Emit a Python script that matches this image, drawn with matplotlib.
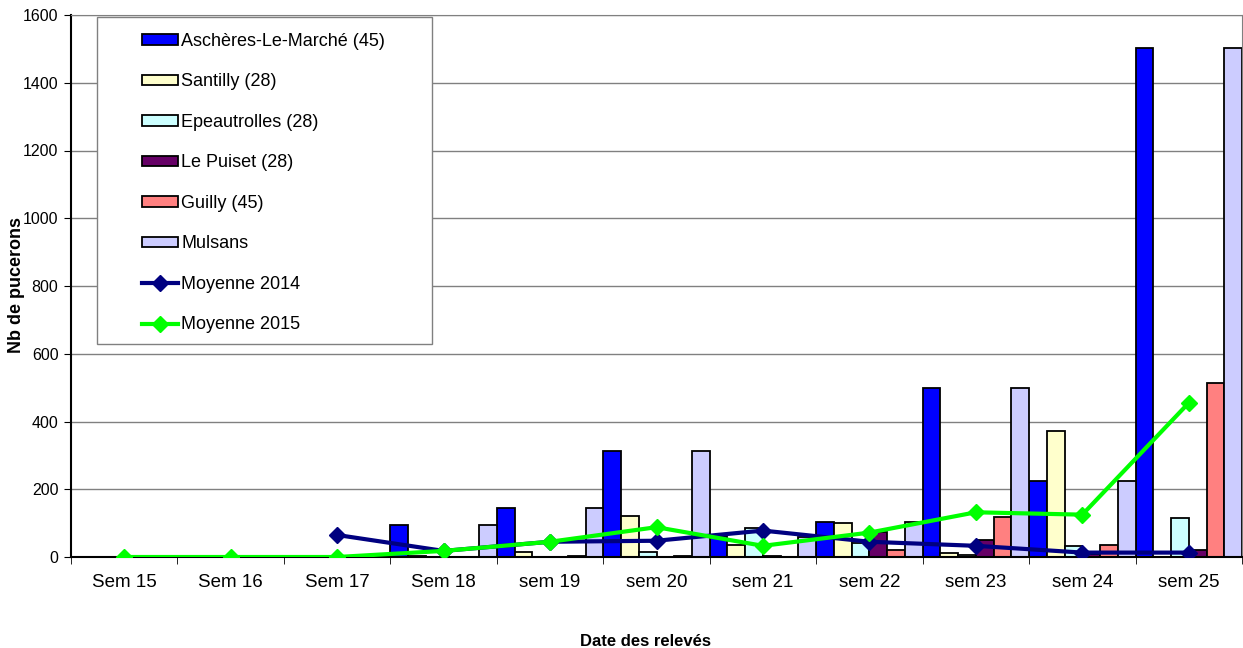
import numpy as np
import matplotlib
matplotlib.use('Agg')
import matplotlib.pyplot as plt
from matplotlib.ticker import FixedLocator
from matplotlib.patches import Rectangle

plt.rcParams['font.family'] = ['Liberation Sans', 'DejaVu Sans']

# weeks and counts
weeks = ['Sem 15', 'Sem 16', 'Sem 17', 'Sem 18', 'sem 19', 'sem 20',
         'sem 21', 'sem 22', 'sem 23', 'sem 24', 'sem 25']
aschères = [0, 0, 3, 93, 145, 313, 62, 104, 500, 225, 1504]
santilly = [0, 0, 0, 3, 15, 120, 34, 101, 12, 372, 0]
epeautrolles = [0, 0, 0, 0, 0, 14, 85, 42, 5, 31, 115]
le_puiset = [0, 0, 0, 0, 0, 0, 2, 75, 49, 10, 21]
guilly = [0, 0, 0, 0, 2, 2, 0, 20, 119, 35, 515]
mulsans = [0, 0, 0, 93, 145, 313, 60, 104, 500, 225, 1504]
moy_2014 = [np.nan, np.nan, 65, 18, 45, 48, 78, 45, 33, 13, 13]
moy_2015 = [0, 0, 0, 18, 45, 88, 33, 72, 132, 125, 455]

bar_series = [
    ('Aschères-Le-Marché (45)', aschères, '#0000FF'),
    ('Santilly (28)', santilly, '#FFFFCC'),
    ('Epeautrolles (28)', epeautrolles, '#CCFFFF'),
    ('Le Puiset (28)', le_puiset, '#660066'),
    ('Guilly (45)', guilly, '#FF8080'),
    ('Mulsans', mulsans, '#CCCCFF'),
]

W, H = 1243, 648
fig = plt.figure(figsize=(W / 100, H / 100), dpi=100)
ax = fig.add_axes([71/W, 1 - 557/H, (1242-71)/W, (557-15)/H])

x = np.arange(len(weeks))
n = len(bar_series)
w = 1.0 / n
handles = []
for j, (name, vals, col) in enumerate(bar_series):
    b = ax.bar(x - 0.5 + (j + 0.5) * w, vals, width=w, color=col,
               edgecolor='black', linewidth=1.3, label=name, zorder=2)
    handles.append(b)

l1, = ax.plot(x, moy_2014, color='#000080', lw=3, marker='D', ms=8,
              label='Moyenne 2014', zorder=3)
l2, = ax.plot(x, moy_2015, color='#00FF00', lw=3, marker='D', ms=8,
              label='Moyenne 2015', zorder=4)
handles += [l1, l2]

ax.set_xlim(-0.5, len(weeks) - 0.5)
ax.set_ylim(0, 1600)
ax.set_yticks(np.arange(0, 1601, 200))
ax.yaxis.grid(True, color='#808080', lw=1)
ax.set_axisbelow(True)

ax.set_xticks(x)
ax.set_xticklabels(weeks)
ax.xaxis.set_minor_locator(FixedLocator(np.arange(-0.5, len(weeks), 1)))
ax.tick_params(axis='x', which='major', length=0, pad=12, labelsize=13.5)
ax.tick_params(axis='x', which='minor', length=5, color='black')
ax.tick_params(axis='y', length=5, labelsize=11.5, pad=4)

for s in ['top', 'right']:
    ax.spines[s].set_color('#808080')
for s in ['left', 'bottom']:
    ax.spines[s].set_color('black')
    ax.spines[s].set_linewidth(1.5)

fig.text(17/W, 1 - 285/H, 'Nb de pucerons', rotation=90, ha='center',
         va='center', fontsize=13, fontweight='bold')
fig.text(646/W, 1 - 641/H, 'Date des relevés', ha='center',
         va='center', fontsize=12, fontweight='bold')

# legend frame drawn separately so the entries can sit indented in it
fig.patches.append(Rectangle((97/W, 1 - 344/H), (432-97)/W, (344-17)/H,
                             transform=fig.transFigure, facecolor='white',
                             edgecolor='#808080', lw=1, zorder=5))
leg = fig.legend(handles=handles, labels=[h.get_label() for h in handles],
                 loc='upper left', bbox_to_anchor=(142/W, 1 - 33/H),
                 fontsize=13, frameon=False, borderpad=0, labelspacing=1.30,
                 handlelength=2.0, handleheight=0.5, handletextpad=0.17,
                 borderaxespad=0)
leg.set_zorder(6)

fig.savefig('out.png', dpi=100)
